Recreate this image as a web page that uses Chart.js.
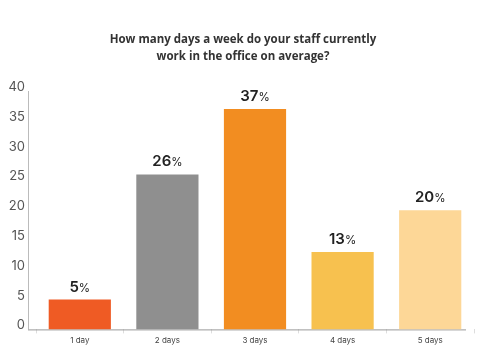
<!DOCTYPE html>
<html><head><meta charset="utf-8">
<script src="https://cdn.jsdelivr.net/npm/chart.js@4"></script>
<style>html,body{margin:0;padding:0;background:#fff}#wrap{width:486px;height:355px;position:relative}</style>
</head><body><div id="wrap"><canvas id="c"></canvas></div>
<script>
const categories = ["1 day", "2 days", "3 days", "4 days", "5 days"];
const values = [5, 26, 37, 13, 20];
const valueLabels = ["5", "26", "37", "13", "20"];
const colors = ["#EF5B24", "#8F8F8F", "#F28D21", "#F7C14F", "#FDD797"];
const yTicks = [0, 5, 10, 15, 20, 25, 30, 35, 40];
const titleLines = ["How many days a week do your staff currently", "work in the office on average?"];

const labelPlugin = {
  id: 'pctLabels',
  afterDatasetsDraw(chart) {
    const ctx = chart.ctx;
    const meta = chart.getDatasetMeta(0);
    ctx.save();
    ctx.fillStyle = '#222';
    ctx.textBaseline = 'alphabetic';
    meta.data.forEach((bar, i) => {
      const num = valueLabels[i];
      const numFont = '600 15px Inter, "Open Sans", sans-serif';
      const pctFont = '400 11.5px Inter, "Open Sans", sans-serif';
      ctx.font = numFont; const w1 = ctx.measureText(num).width;
      ctx.font = pctFont; const w2 = ctx.measureText('%').width;
      const x0 = bar.x - (w1 + w2) / 2;
      const y = bar.y - 8;
      ctx.font = numFont; ctx.textAlign = 'left'; ctx.fillText(num, x0, y);
      ctx.font = pctFont; ctx.fillText('%', x0 + w1, y);
    });
    ctx.restore();
  }
};

const titlePlugin = {
  id: 'centerTitle',
  afterDraw(chart) {
    const ctx = chart.ctx;
    ctx.save();
    ctx.fillStyle = '#333';
    ctx.font = 'bold 11.5px "Open Sans", sans-serif';
    ctx.textAlign = 'center';
    ctx.textBaseline = 'middle';
    titleLines.forEach((t, i) => ctx.fillText(t, chart.width / 2, 40 + i * 17));
    ctx.restore();
  }
};

// axis lines drawn slightly left of the plot area, as in the reference
const axisPlugin = {
  id: 'axisLines',
  beforeDatasetsDraw(chart) {
    const { ctx, chartArea: a } = chart;
    const off = 8;
    ctx.save();
    ctx.lineWidth = 1;
    ctx.strokeStyle = '#bbb';
    ctx.beginPath(); ctx.moveTo(a.left - off + 0.5, a.top); ctx.lineTo(a.left - off + 0.5, a.bottom); ctx.stroke();
    ctx.strokeStyle = '#999';
    ctx.beginPath(); ctx.moveTo(a.left - off, a.bottom + 0.5); ctx.lineTo(a.right - off, a.bottom + 0.5); ctx.stroke();
    ctx.restore();
  }
};

new Chart(document.getElementById('c'), {
  type: 'bar',
  data: {
    labels: categories,
    datasets: [{ data: values, backgroundColor: colors, borderWidth: 0,
      categoryPercentage: 1, barPercentage: 0.71 }]
  },
  options: {
    responsive: true, maintainAspectRatio: false, animation: false,
    layout: { padding: { left: 0, right: 12, top: 91, bottom: 8 } },
    plugins: {
      legend: { display: false }, tooltip: { enabled: false }, title: { display: false }
    },
    scales: {
      x: {
        grid: { display: true, drawOnChartArea: false, drawTicks: true, tickLength: 4, color: '#ddd', offset: true },
        border: { display: false },
        ticks: { color: '#444', font: { family: 'Inter, sans-serif', size: 8 }, padding: 2 }
      },
      y: {
        min: 0, max: 40,
        afterBuildTicks(scale) { scale.ticks = yTicks.map(v => ({ value: v })); },
        afterFit(scale) { scale.width = 36; },
        grid: { display: false, drawTicks: false },
        border: { display: false },
        ticks: { color: '#555', font: { family: 'Inter, sans-serif', size: 13 }, padding: 11, labelOffset: -4 }
      }
    }
  },
  plugins: [labelPlugin, titlePlugin, axisPlugin]
});
</script></body></html>
